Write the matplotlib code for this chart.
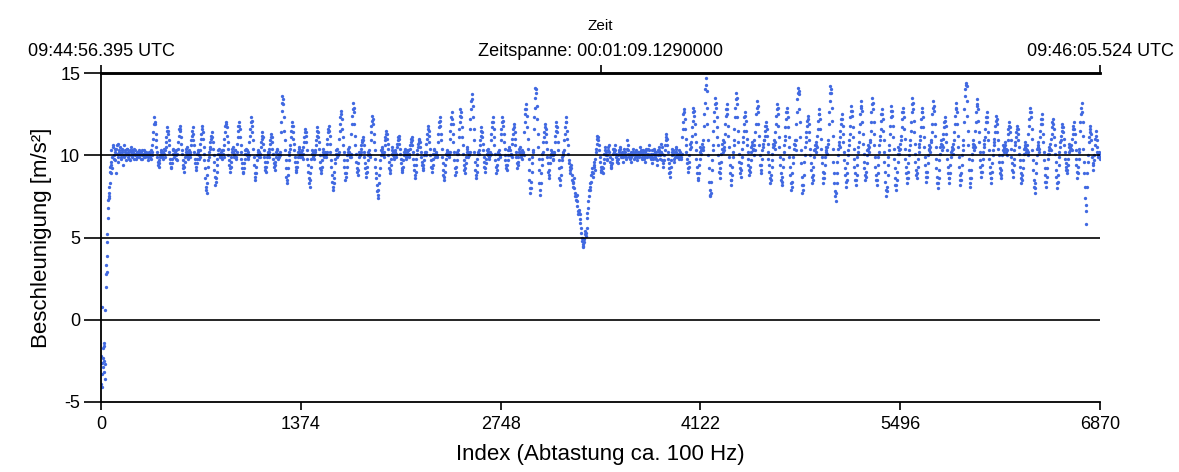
import numpy as np
import matplotlib
matplotlib.use("Agg")
import matplotlib.pyplot as plt

plt.rcParams['font.family'] = ['Liberation Sans', 'DejaVu Sans']
plt.rcParams['axes.unicode_minus'] = False

# ---------------- data ----------------
sample_step = 6          # main readings every 6 samples
mid_offset = 3           # second set of readings, between the main ones

start_index = list(range(0, 72, 2))
start_values = [-2.2, -3.9, -4.1, 0.8, -3.3, -2.6, -2.3, -2.9, -1.7, -1.4,
                -2.5, -3.2, -1.6, 0.6, -2.7, -3.6, 2.0, 2.8, 3.3, 2.9,
                3.9, 4.7, 5.2, 6.2, 6.8, 7.3, 7.5, 7.7, 7.4, 8.1,
                8.3, 9.0, 9.3, 8.9, 9.6, 9.4]

calm_start = 72
calm_values = [10.3, 9.2, 10.6, 9.8, 10.4, 8.9, 10.1, 10.7, 9.6, 10.2,
               10.5, 9.9, 10.3, 9.4, 10.6, 10.0, 10.2, 9.7, 10.4, 10.1,
               9.8, 10.3, 10.5, 10.0, 9.9, 10.2, 10.4, 10.1, 9.8, 10.2,
               10.0, 10.3, 9.9, 10.1, 10.2, 9.8, 10.0, 10.3, 10.1, 9.9,
               10.2, 10.0, 9.7, 10.1]
calm_mid = [9.9, 10.5, 10.0, 10.2, 9.7, 10.4, 10.6, 9.9, 10.3, 10.1,
            9.8, 10.2, 10.4, 10.0, 9.9, 10.3, 10.1, 10.4, 9.9, 10.2,
            10.0, 9.7, 10.2, 10.3, 10.1, 9.8, 10.0, 10.3, 10.1, 9.9,
            10.2, 10.0, 10.2, 9.8, 10.0, 10.3, 10.1, 9.9, 10.2, 10.0,
            10.1, 9.9, 10.2, 10.0]

walk1_start = 336
walk1_values = [
    10.1, 9.8, 10.2,
    10.6, 11.4, 12.3, 11.9, 10.9, 10.2, 9.6, 9.3, 9.7, 10.0, 10.3, 9.9, 10.1, 10.4, 9.9,
    10.5, 11.1, 11.7, 11.3, 10.6, 9.8, 9.2, 9.5, 10.1, 10.4, 9.9, 10.2, 10.0, 9.7,
    10.4, 11.2, 11.8, 11.5, 10.7, 10.1, 9.4, 9.0, 9.6, 10.2, 10.5, 10.0, 9.8, 10.3, 10.1,
    10.6, 11.2, 11.7, 10.9, 10.2, 9.5, 9.1, 9.8, 10.3, 10.0, 9.9,
    10.7, 11.3, 11.8, 11.0, 10.1, 9.2, 8.1, 7.7, 8.8, 9.7, 10.2,
    10.5, 11.0, 11.4, 10.8, 10.0, 9.1, 8.2, 8.6, 9.4, 10.1, 10.4, 9.9, 10.2, 10.0, 9.8, 10.3,
    10.6, 11.4, 12.0, 11.7, 10.8, 10.0, 9.4, 9.0, 9.6, 10.2, 10.5, 9.9, 10.1, 10.3, 9.8,
    10.7, 11.5, 12.0, 11.6, 10.6, 9.8, 9.2, 8.9, 9.5, 10.1, 10.4, 10.0, 9.8, 10.2,
    10.8, 11.6, 12.3, 11.8, 10.9, 9.9, 8.9, 8.5, 9.3, 10.0, 10.3, 9.9, 10.1,
    10.5, 11.0, 11.4, 10.7, 9.9, 9.3, 9.0, 9.6, 10.2, 9.9,
    10.4, 10.9, 11.3, 10.8, 10.1, 9.5, 9.1, 9.6, 10.2, 10.4, 9.8, 10.1, 10.0,
    11.4, 12.7, 13.6, 13.1, 11.5, 10.3, 9.2, 8.3, 8.8, 9.7, 10.2,
    10.6, 11.5, 12.0, 11.4, 10.7, 9.9, 9.3, 9.0, 9.6, 10.2, 10.5, 9.9, 10.1, 10.3, 9.8,
    10.5, 11.1, 11.6, 11.2, 10.3, 9.4, 8.6, 8.1, 8.9, 9.8, 10.3, 10.0, 9.8, 10.2,
    10.6, 11.2, 11.7, 11.1, 10.4, 9.6, 8.9, 9.3, 10.0, 10.4, 9.9, 10.2, 9.9,
    10.7, 11.4, 11.8, 11.2, 10.2, 9.3, 8.4, 7.9, 8.6, 9.5, 10.1, 10.4, 9.9, 10.1,
    11.0, 11.9, 12.7, 12.2, 11.1, 10.2, 9.3, 8.5, 8.9, 9.7, 10.2, 10.5, 9.9, 10.1,
    11.3, 12.4, 13.2, 12.6, 11.2, 10.1, 9.2, 8.8, 9.5, 10.2, 10.0,
    10.4, 10.8, 11.1, 10.6, 9.9, 9.2, 8.7, 9.3, 10.0, 10.3, 9.9,
    10.9, 11.8, 12.4, 11.9, 10.8, 9.8, 8.9, 8.2, 7.4, 7.9, 8.8, 9.7, 10.3, 10.5, 10.0, 10.2,
    10.6, 11.1, 11.5, 11.0, 10.4, 9.6, 8.9, 9.4, 10.1, 10.5, 10.0, 9.8, 10.3, 10.1,
    10.5, 10.9, 11.2, 10.7, 10.1, 9.5, 9.0, 9.3, 10.0, 10.4, 10.1, 9.8, 10.2, 10.3, 9.9,
    10.4, 10.8, 11.1, 10.6, 9.8, 9.1, 8.6, 9.4, 10.1,
    10.5, 10.8, 11.0, 10.5, 9.9, 9.4, 9.1, 9.7, 10.2, 10.0,
    10.7, 11.3, 11.8, 11.2, 10.4, 9.7, 9.0, 9.4, 10.1, 10.4, 9.9, 10.2, 10.0,
    10.8, 11.7, 12.3, 11.8, 10.9, 9.9, 9.1, 8.5, 9.0, 9.8, 10.3, 10.0, 10.2, 9.9,
    11.0, 11.9, 12.6, 11.9, 10.8, 9.7, 8.8, 9.3, 10.1, 10.3,
    11.1, 12.0, 12.8, 12.3, 11.1, 10.1, 9.4, 8.9, 9.5, 10.2, 10.5, 9.9, 10.1,
    11.6, 12.8, 13.7, 13.0, 11.6, 10.2, 9.1, 8.6, 9.4, 10.1, 10.3,
    10.6, 11.2, 11.7, 11.1, 10.3, 9.6, 9.0, 9.5, 10.1, 10.4, 10.0, 9.8, 10.2,
    10.9, 11.7, 12.3, 11.6, 10.6, 9.7, 8.9, 9.4, 10.1, 10.3, 9.9,
    10.9, 11.6, 12.3, 11.8, 10.8, 10.0, 9.4, 9.1, 9.7, 10.3, 10.5, 10.0, 10.1,
    10.7, 11.3, 11.9, 11.4, 10.6, 9.9, 9.2, 9.6, 10.2, 10.5, 10.0, 9.8, 10.3, 10.1,
    11.4, 12.5, 13.1, 12.4, 11.0, 9.8, 8.5, 7.7, 8.4, 9.5, 10.2,
    11.6, 12.9, 14.1, 13.8, 12.2, 10.5, 9.1, 7.6, 8.3, 9.4, 10.1,
    10.8, 11.4, 11.9, 11.3, 10.4, 9.5, 8.6, 9.1, 9.9, 10.3, 10.0, 9.7, 10.2,
    10.8, 11.5, 12.0, 11.4, 10.3, 9.2, 8.2, 8.8, 9.7, 10.2, 10.0,
    10.9, 11.7, 12.3, 11.5,
]
walk1_mid = [
    9.9, 10.3, 10.0,
    11.0, 11.9, 12.0, 11.3, 10.5, 9.9, 9.4, 9.5, 9.9, 10.2, 10.0, 10.2, 9.8, 10.1, 10.3,
    10.8, 11.5, 11.5, 10.9, 10.2, 9.5, 9.3, 9.8, 10.3, 10.1, 10.0, 9.8, 10.3, 10.1,
    10.8, 11.6, 11.6, 11.1, 10.3, 9.7, 9.2, 9.3, 9.9, 10.4, 10.2, 9.9, 10.1, 10.2, 9.9,
    10.9, 11.5, 11.3, 10.6, 9.8, 9.3, 9.5, 10.1, 10.2, 9.8, 10.3,
    11.0, 11.6, 11.4, 10.5, 9.7, 8.6, 7.9, 8.3, 9.3, 9.9, 10.4,
    10.8, 11.2, 11.1, 10.4, 9.6, 8.7, 8.4, 9.0, 9.8, 10.3, 10.1, 10.0, 9.9, 10.3, 10.1, 9.9,
    11.0, 11.8, 11.9, 11.2, 10.4, 9.7, 9.2, 9.3, 9.9, 10.4, 10.2, 10.0, 10.3, 9.9, 10.2,
    11.1, 11.8, 11.8, 11.1, 10.2, 9.5, 9.0, 9.2, 9.8, 10.3, 10.1, 10.3, 9.9, 10.0,
    11.2, 12.0, 12.1, 11.4, 10.4, 9.4, 8.7, 8.9, 9.7, 10.2, 10.0, 10.2, 9.9,
    10.8, 11.2, 11.1, 10.3, 9.6, 9.1, 9.3, 9.9, 10.1, 10.2,
    10.7, 11.1, 11.1, 10.4, 9.8, 9.3, 9.4, 9.9, 10.3, 10.1, 10.0, 9.9, 10.2,
    12.0, 13.2, 13.4, 12.3, 10.9, 9.7, 8.7, 8.5, 9.2, 10.0, 10.4,
    11.1, 11.8, 11.8, 11.0, 10.3, 9.6, 9.1, 9.3, 9.9, 10.4, 10.2, 10.0, 10.2, 9.9, 10.1,
    10.8, 11.4, 11.4, 10.8, 9.8, 9.0, 8.3, 8.5, 9.3, 10.1, 10.2, 9.9, 10.0, 10.3,
    10.9, 11.5, 11.4, 10.8, 10.0, 9.2, 9.1, 9.7, 10.2, 10.1, 10.0, 10.1, 10.2,
    11.0, 11.6, 11.5, 10.7, 9.7, 8.8, 8.1, 8.3, 9.0, 9.8, 10.3, 10.1, 10.0, 10.2,
    11.5, 12.3, 12.5, 11.6, 10.6, 9.7, 8.9, 8.7, 9.3, 10.0, 10.4, 10.2, 10.0, 9.9,
    11.9, 12.8, 12.9, 11.9, 10.6, 9.6, 9.0, 9.1, 9.9, 10.1, 10.2,
    10.6, 10.9, 10.9, 10.2, 9.5, 8.9, 9.0, 9.7, 10.2, 10.1, 10.0,
    11.4, 12.1, 12.2, 11.3, 10.3, 9.3, 8.6, 7.8, 7.6, 8.3, 9.2, 10.0, 10.4, 10.2, 10.1, 9.9,
    10.9, 11.3, 11.3, 10.7, 10.0, 9.2, 9.1, 9.8, 10.3, 10.2, 9.9, 10.1, 10.2, 9.9,
    10.7, 11.1, 11.0, 10.4, 9.8, 9.2, 9.1, 9.7, 10.2, 10.3, 9.9, 10.0, 10.3, 10.1, 10.0,
    10.6, 11.0, 10.9, 10.2, 9.4, 8.8, 9.0, 9.8, 10.3,
    10.7, 10.9, 10.8, 10.2, 9.6, 9.2, 9.4, 10.0, 10.1, 10.2,
    11.0, 11.6, 11.5, 10.8, 10.0, 9.3, 9.2, 9.8, 10.3, 10.1, 10.0, 10.1, 9.9,
    11.3, 12.0, 12.1, 11.3, 10.4, 9.5, 8.8, 8.7, 9.4, 10.1, 10.2, 10.1, 10.0, 10.2,
    11.5, 12.3, 12.2, 11.3, 10.2, 9.2, 9.0, 9.7, 10.2, 10.1,
    11.6, 12.4, 12.6, 11.7, 10.6, 9.7, 9.1, 9.2, 9.9, 10.4, 10.2, 10.0, 10.2,
    12.2, 13.3, 13.4, 12.3, 10.9, 9.6, 8.8, 9.0, 9.8, 10.2, 10.1,
    10.9, 11.5, 11.4, 10.7, 9.9, 9.3, 9.2, 9.8, 10.3, 10.2, 9.9, 10.0, 10.1,
    11.3, 12.0, 12.0, 11.1, 10.1, 9.3, 9.1, 9.8, 10.2, 10.1, 10.0,
    11.3, 12.0, 12.1, 11.3, 10.4, 9.7, 9.2, 9.4, 10.0, 10.4, 10.3, 10.0, 9.9,
    11.0, 11.6, 11.7, 11.0, 10.2, 9.5, 9.4, 9.9, 10.4, 10.2, 9.9, 10.1, 10.2, 10.0,
    12.0, 12.8, 12.8, 11.7, 10.4, 9.1, 8.0, 8.0, 9.0, 9.9, 10.3,
    12.3, 13.5, 14.0, 13.0, 11.3, 9.8, 8.3, 7.9, 8.9, 9.8, 10.2,
    11.1, 11.7, 11.6, 10.8, 9.9, 9.0, 8.8, 9.5, 10.1, 10.2, 9.8, 10.0, 10.1,
    11.2, 11.8, 11.7, 10.8, 9.7, 8.6, 8.5, 9.3, 9.9, 10.1, 10.3,
    11.3, 12.0, 12.0, 11.0,
]

dip_start = 3210
dip_values = [10.6, 9.7, 9.3, 8.9, 9.4, 8.5, 8.1, 8.6, 7.7, 7.3,
              7.6, 6.9, 6.4, 6.7, 6.1, 5.6, 5.0, 4.6, 4.4, 4.9,
              5.4, 5.1, 6.2, 6.8, 7.5, 8.3, 7.9, 8.8, 9.2, 8.7,
              9.6, 9.1, 10.2]
dip_mid = [10.1, 9.5, 9.1, 9.2, 8.8, 8.3, 8.4, 8.0, 7.5, 7.5,
           7.2, 6.6, 6.5, 6.4, 5.9, 5.3, 4.8, 4.5, 4.7, 5.2,
           5.3, 5.6, 6.5, 7.2, 7.9, 8.1, 8.4, 9.0, 8.9, 9.3,
           9.4, 9.8, 10.4]

quiet_start = 3408
quiet_values = [10.7, 11.2, 10.9, 10.3, 9.6, 9.0, 9.3, 8.9, 9.5, 10.1,
                10.5, 10.0, 9.7, 10.3, 10.6, 9.9, 9.4, 9.2, 9.8, 10.4,
                10.2, 10.6, 10.1, 9.7, 9.5, 10.0, 10.3, 10.5, 9.9, 10.2,
                9.6, 10.1, 10.4, 10.0, 9.8, 10.9, 10.3, 9.9, 10.1, 9.6,
                10.2, 10.0, 10.4, 9.8, 10.1, 10.3, 9.7, 10.0, 10.2, 9.9,
                10.5, 10.1, 9.8, 10.3, 10.0, 9.6, 10.2, 10.4, 9.9, 10.1,
                10.6, 10.0, 9.8, 10.3, 9.5, 10.1, 10.4, 9.9, 10.2, 9.4,
                10.0, 10.5, 10.2, 9.8, 10.7, 10.1, 9.3, 9.7, 10.3, 10.9,
                11.3, 10.6, 9.8, 9.2, 8.7, 9.3, 10.0, 10.4, 10.1, 9.6,
                10.2, 10.5, 9.9, 10.1, 9.8, 10.3, 10.0, 9.9]
quiet_mid = [11.0, 11.1, 10.6, 9.9, 9.3, 9.1, 9.0, 9.2, 9.8, 10.3,
             10.2, 9.8, 10.0, 10.5, 10.2, 9.6, 9.3, 9.5, 10.1, 10.3,
             10.4, 10.3, 9.9, 9.6, 9.8, 10.2, 10.4, 10.1, 10.0, 9.9,
             9.9, 10.2, 10.2, 9.9, 10.4, 10.6, 10.1, 10.0, 9.8, 9.9,
             10.1, 10.2, 10.1, 9.9, 10.2, 10.0, 9.9, 10.1, 10.0, 10.2,
             10.3, 9.9, 10.1, 10.2, 9.8, 9.9, 10.3, 10.1, 10.0, 10.4,
             10.3, 9.9, 10.1, 9.9, 9.8, 10.3, 10.2, 10.0, 9.8, 9.7,
             10.3, 10.3, 10.0, 10.2, 10.5, 9.7, 9.5, 10.0, 10.6, 11.1,
             11.0, 10.2, 9.5, 8.9, 9.0, 9.7, 10.2, 10.3, 9.8, 9.9,
             10.4, 10.2, 10.0, 9.9, 10.1, 10.2, 9.8, 10.1]

walk2_start = 3996
walk2_values = [
    11.1, 12.0, 12.8, 12.2, 11.0, 10.2, 9.5, 9.0, 9.6, 10.4, 10.8,
    11.2, 12.1, 12.9, 12.4, 11.3, 10.3, 9.3, 8.5, 8.9, 9.8, 10.5, 10.1, 10.7, 10.3,
    11.8, 13.2, 14.7, 13.9, 11.9, 10.0, 8.4, 7.5, 7.7, 9.1, 10.3,
    11.5, 12.6, 13.5, 12.9, 11.7, 10.6, 9.5, 8.6, 9.2, 10.1, 10.7, 10.2, 10.5,
    11.3, 12.4, 13.1, 12.5, 11.2, 9.9, 8.9, 8.2, 8.8, 9.9, 10.6,
    11.6, 12.9, 13.8, 13.1, 11.5, 10.1, 9.2, 8.7, 9.5, 10.4,
    11.1, 11.9, 12.6, 12.1, 11.0, 10.2, 9.4, 8.8, 9.3, 10.2, 10.8, 10.3, 10.6, 10.0,
    11.4, 12.5, 13.3, 12.6, 11.2, 10.0, 8.9, 9.4, 10.3, 10.7,
    10.9, 11.5, 12.0, 11.6, 10.7, 9.8, 9.0, 8.3, 8.8, 9.7, 10.5, 10.9, 10.4,
    11.4, 12.4, 13.1, 12.5, 11.1, 9.9, 8.9, 8.2, 8.7, 9.8, 10.6,
    11.2, 12.2, 12.9, 12.3, 11.1, 9.9, 8.8, 7.9, 8.4, 9.5, 10.4, 10.9, 10.3,
    11.9, 13.4, 14.1, 13.7, 12.0, 10.3, 8.7, 7.7, 8.2, 9.6, 10.5,
    11.1, 11.8, 12.4, 11.9, 10.9, 10.0, 9.1, 8.3, 8.8, 9.9, 10.6, 10.2, 10.8,
    11.2, 12.1, 12.8, 12.2, 11.0, 9.9, 9.0, 8.3, 8.9, 9.9, 10.5, 10.1, 10.7,
    11.9, 13.3, 14.2, 13.8, 12.1, 10.4, 8.9, 7.8, 7.2, 8.3, 9.6, 10.4, 10.8,
    11.1, 11.9, 12.5, 11.8, 10.8, 9.7, 8.8, 8.1, 8.9, 10.0, 10.6,
    11.3, 12.3, 13.0, 12.4, 11.1, 9.8, 8.9, 8.2, 8.8, 9.9, 10.5,
    11.4, 12.5, 13.3, 12.7, 11.3, 10.1, 9.2, 8.5, 9.0, 10.0, 10.6, 10.2, 10.8,
    11.5, 12.6, 13.5, 12.8, 11.3, 9.9, 8.8, 8.2, 8.9, 9.9, 10.6,
    11.2, 12.1, 12.8, 12.2, 10.9, 9.6, 8.4, 7.5, 8.1, 9.4, 10.3,
    11.3, 12.3, 13.0, 12.4, 11.1, 9.8, 8.6, 7.9, 8.5, 9.6, 10.5, 10.1, 10.7,
    11.2, 12.2, 12.9, 12.3, 11.0, 9.8, 8.9, 8.3, 9.0, 10.0, 10.6,
    11.5, 12.6, 13.5, 12.8, 11.4, 10.1, 9.1, 8.6, 9.3, 10.2, 10.7,
    11.2, 12.2, 12.9, 12.3, 11.1, 9.9, 9.0, 8.4, 9.0, 10.0, 10.6, 10.2, 10.8,
    11.4, 12.5, 13.3, 12.7, 11.2, 9.8, 8.7, 8.0, 8.6, 9.7, 10.5, 10.9, 10.3,
    11.0, 11.7, 12.3, 11.8, 10.8, 9.8, 8.9, 8.3, 8.9, 9.9, 10.5, 10.1, 10.7,
    11.4, 12.4, 13.2, 12.6, 11.2, 9.9, 8.8, 8.2, 8.9, 10.0, 10.6,
    12.0, 13.6, 14.4, 14.2, 12.4, 10.6, 9.1, 8.1, 8.6, 9.7, 10.5, 10.9, 10.3,
    11.5, 12.6, 13.4, 12.8, 11.4, 10.2, 9.3, 8.7, 9.4, 10.2, 10.7,
    11.1, 12.0, 12.6, 12.0, 10.9, 9.8, 8.9, 8.3, 9.0, 10.0, 10.6,
    11.0, 11.8, 12.4, 11.9, 10.9, 10.0, 9.2, 8.6, 9.1, 10.0, 10.6, 10.2, 10.8, 10.4, 10.0,
    10.9, 11.6, 12.0, 11.4, 10.4, 9.5, 8.7, 9.4, 10.3,
    10.8, 11.4, 11.8, 11.3, 10.5, 9.7, 8.9, 8.3, 8.8, 9.7, 10.4, 10.8, 10.2, 10.6, 10.0,
    11.3, 12.2, 12.9, 12.3, 11.0, 9.7, 8.5, 7.7, 8.3, 9.5, 10.4, 10.8, 10.2,
    11.1, 11.9, 12.5, 11.9, 10.8, 9.7, 8.8, 8.1, 8.7, 9.8, 10.5, 10.1, 10.7,
    11.0, 11.7, 12.2, 11.6, 10.6, 9.6, 8.7, 8.0, 8.8, 9.9, 10.5,
    10.9, 11.5, 11.9, 11.4, 10.6, 9.8, 9.3, 8.9, 9.4, 10.2, 10.7, 10.3, 10.6,
    11.0, 11.6, 12.0, 11.3, 10.3, 9.4, 8.6, 9.3, 10.2,
    11.5, 12.5, 13.2, 12.0, 10.4, 8.9, 7.4, 5.8, 8.1, 9.6,
    10.8, 11.4, 11.8, 10.9, 9.9, 9.1, 9.7,
    10.6, 11.5, 10.9, 10.2, 9.9, 10.2, 9.8,
]
walk2_mid = [
    11.6, 12.5, 12.6, 11.6, 10.6, 9.8, 9.2, 9.3, 10.0, 10.7, 10.5,
    11.7, 12.6, 12.7, 11.9, 10.8, 9.8, 8.9, 8.6, 9.4, 10.2, 10.3, 10.4, 10.5, 10.9,
    12.5, 14.0, 14.3, 12.9, 10.9, 9.2, 7.9, 7.6, 8.4, 9.7, 10.6,
    12.1, 13.1, 13.2, 12.3, 11.1, 10.0, 9.0, 8.9, 9.6, 10.4, 10.9, 10.3, 10.8,
    11.9, 12.8, 12.8, 11.8, 10.5, 9.4, 8.5, 8.5, 9.3, 10.2, 10.9,
    12.3, 13.4, 13.5, 12.3, 10.8, 9.6, 8.9, 9.1, 9.9, 10.8,
    11.5, 12.3, 12.4, 11.5, 10.6, 9.8, 9.1, 9.0, 9.7, 10.5, 10.6, 10.4, 10.9, 10.3,
    11.9, 12.9, 13.0, 11.9, 10.6, 9.4, 9.1, 9.8, 10.5, 10.9,
    11.2, 11.8, 11.8, 11.2, 10.2, 9.4, 8.6, 8.5, 9.3, 10.1, 10.7, 10.6, 10.8,
    11.9, 12.8, 12.9, 11.8, 10.5, 9.4, 8.5, 8.4, 9.3, 10.2, 10.9,
    11.7, 12.6, 12.6, 11.7, 10.5, 9.3, 8.3, 8.1, 8.9, 9.9, 10.7, 10.6, 10.9,
    12.6, 13.8, 13.9, 12.8, 11.1, 9.5, 8.2, 7.9, 8.8, 10.0, 10.8,
    11.4, 12.1, 12.2, 11.4, 10.4, 9.5, 8.7, 8.5, 9.3, 10.3, 10.4, 10.6, 10.5,
    11.6, 12.5, 12.5, 11.6, 10.4, 9.5, 8.6, 8.6, 9.4, 10.2, 10.3, 10.5, 10.9,
    12.6, 13.8, 14.0, 12.9, 11.2, 9.6, 8.3, 7.5, 7.7, 8.9, 10.0, 10.6, 10.5,
    11.5, 12.2, 12.2, 11.3, 10.2, 9.2, 8.4, 8.5, 9.5, 10.3, 10.9,
    11.8, 12.7, 12.7, 11.7, 10.4, 9.3, 8.5, 8.5, 9.4, 10.2, 10.8,
    11.9, 12.9, 13.0, 12.0, 10.7, 9.6, 8.8, 8.7, 9.5, 10.3, 10.4, 10.5, 10.9,
    12.0, 13.1, 13.2, 12.0, 10.6, 9.3, 8.5, 8.5, 9.4, 10.2, 10.9,
    11.6, 12.5, 12.5, 11.5, 10.2, 9.0, 7.9, 7.8, 8.8, 9.9, 10.6,
    11.8, 12.7, 12.7, 11.8, 10.4, 9.2, 8.2, 8.2, 9.0, 10.1, 10.3, 10.4, 10.9,
    11.7, 12.6, 12.6, 11.6, 10.4, 9.3, 8.6, 8.6, 9.5, 10.3, 10.9,
    12.0, 13.1, 13.2, 12.1, 10.7, 9.6, 8.8, 8.9, 9.8, 10.5, 10.9,
    11.7, 12.6, 12.6, 11.7, 10.5, 9.4, 8.7, 8.7, 9.5, 10.3, 10.4, 10.5, 10.9,
    11.9, 12.9, 13.0, 11.9, 10.5, 9.2, 8.3, 8.3, 9.1, 10.1, 10.7, 10.6, 10.5,
    11.3, 12.0, 12.1, 11.3, 10.3, 9.3, 8.6, 8.6, 9.4, 10.2, 10.3, 10.4, 10.9,
    11.9, 12.8, 12.9, 11.9, 10.5, 9.3, 8.5, 8.5, 9.4, 10.3, 10.9,
    12.8, 14.0, 14.3, 13.3, 11.5, 9.8, 8.6, 8.3, 9.1, 10.1, 10.7, 10.6, 10.5,
    12.0, 13.0, 13.1, 12.1, 10.8, 9.7, 9.0, 9.0, 9.8, 10.5, 10.9,
    11.6, 12.3, 12.3, 11.4, 10.3, 9.3, 8.6, 8.6, 9.5, 10.3, 10.8,
    11.4, 12.1, 12.2, 11.4, 10.4, 9.6, 8.9, 8.8, 9.6, 10.3, 10.4, 10.5, 10.6, 10.2, 10.3,
    11.3, 11.8, 11.7, 10.9, 9.9, 9.1, 9.0, 9.8, 10.6,
    11.1, 11.6, 11.6, 10.9, 10.1, 9.3, 8.6, 8.5, 9.2, 10.1, 10.6, 10.5, 10.4, 10.3, 10.2,
    11.8, 12.6, 12.6, 11.6, 10.3, 9.1, 8.1, 8.0, 8.9, 10.0, 10.6, 10.5, 10.4,
    11.5, 12.2, 12.2, 11.3, 10.2, 9.2, 8.4, 8.4, 9.2, 10.1, 10.3, 10.4, 10.3,
    11.3, 12.0, 11.9, 11.1, 10.1, 9.1, 8.3, 8.4, 9.4, 10.2, 10.8,
    11.2, 11.7, 11.7, 11.0, 10.2, 9.5, 9.1, 9.1, 9.8, 10.5, 10.5, 10.4, 10.3,
    11.3, 11.8, 11.6, 10.8, 9.8, 9.0, 8.9, 9.8, 10.4,
    12.0, 12.9, 12.6, 11.2, 9.6, 8.1, 6.6, 7.0, 8.9, 10.0,
    11.1, 11.6, 11.3, 10.4, 9.5, 9.4, 10.0,
    11.0, 11.2, 10.5, 10.0, 10.1, 9.9,
]

x_ticks = [0, 1374, 2748, 4122, 5496, 6870]
y_ticks = [-5, 0, 5, 10, 15]
grid_levels = [0, 5, 10]
top_ticks = [0, 3435, 6870]
top_labels = ["09:44:56.395 UTC", "Zeitspanne: 00:01:09.1290000", "09:46:05.524 UTC"]

# ---------------- assemble series ----------------
segments = [(calm_start, calm_values, calm_mid),
            (walk1_start, walk1_values, walk1_mid),
            (dip_start, dip_values, dip_mid),
            (quiet_start, quiet_values, quiet_mid),
            (walk2_start, walk2_values, walk2_mid)]
xs = [np.asarray(start_index, float)]
ys = [np.asarray(start_values, float)]
for s0, vals, mids in segments:
    xs.append(s0 + sample_step * np.arange(len(vals)))
    ys.append(np.asarray(vals, float))
    xs.append(s0 + mid_offset + sample_step * np.arange(len(mids)))
    ys.append(np.asarray(mids, float))
x = np.concatenate(xs)
y = np.concatenate(ys)

# ---------------- figure ----------------
fig = plt.figure(figsize=(11.79, 4.72), dpi=100)
ax = fig.add_axes([101 / 1179, 1 - 402 / 472, 999 / 1179, 329 / 472])

ax.plot(x, y, 'o', ms=2.4, color='#4169E1', mec='none', zorder=2)

for g in grid_levels:
    ax.axhline(g, color='black', lw=1.2, zorder=3)

ax.set_xlim(0, 6870)
ax.set_ylim(-5, 15)
ax.set_xticks(x_ticks)
ax.set_yticks(y_ticks)
ax.tick_params(axis='y', direction='out', length=12, width=1.2, labelsize=13, pad=3)
ax.tick_params(axis='x', direction='out', length=6, width=1.2, labelsize=13, pad=4)

ax.spines['right'].set_visible(False)
for sp in ['left', 'bottom']:
    ax.spines[sp].set_linewidth(1.3)
ax.spines['top'].set_linewidth(1.8)

ax.set_xlabel("Index (Abtastung ca. 100 Hz)", fontsize=16, labelpad=8)
ax.set_ylabel("Beschleunigung [m/s²]", fontsize=16, labelpad=6)

ax2 = ax.twiny()
ax2.set_xlim(0, 6870)
ax2.set_xticks(top_ticks)
ax2.set_xticklabels(top_labels)
ax2.tick_params(axis='x', direction='out', length=6, width=1.2, labelsize=13, pad=3)
for sp in ['left', 'right', 'bottom']:
    ax2.spines[sp].set_visible(False)
ax2.spines['top'].set_linewidth(1.8)
ax2.set_xlabel("Zeit", fontsize=11, labelpad=10)

fig.savefig("out.png", dpi=100)
